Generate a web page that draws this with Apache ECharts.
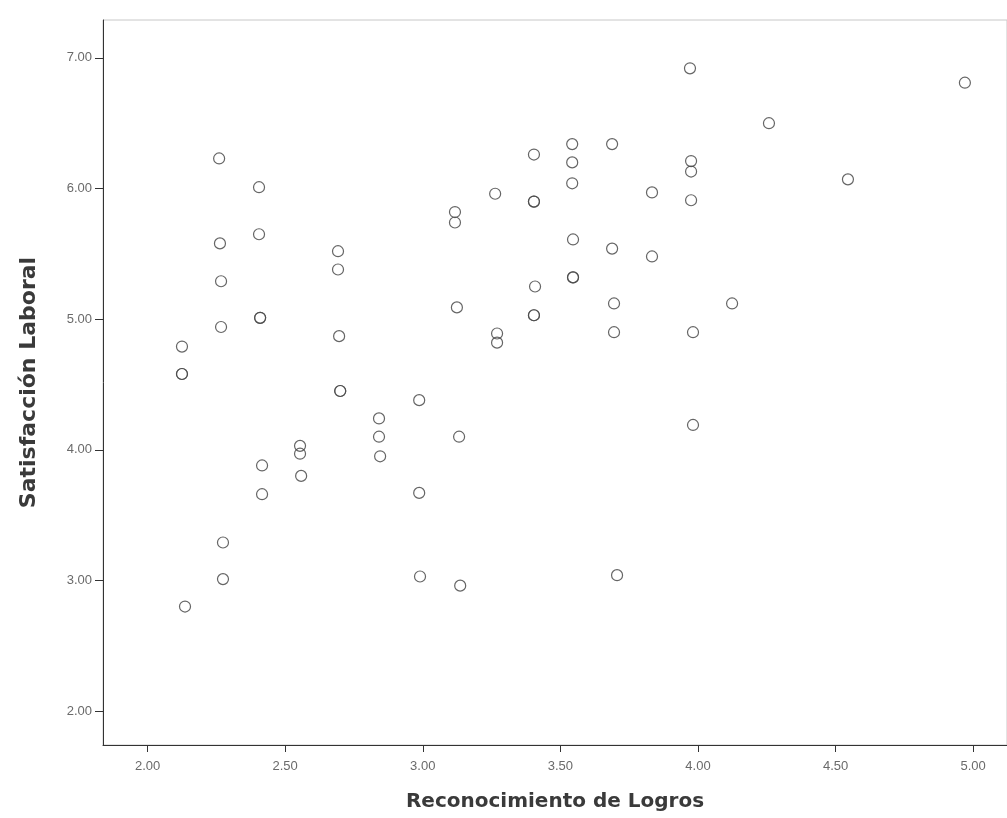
<!DOCTYPE html>
<html>
<head>
<meta charset="utf-8">
<script src="https://cdn.jsdelivr.net/npm/echarts@6/dist/echarts.min.js"></script>
<style>
html,body{margin:0;padding:0;background:#fff;}
#chart{width:1007px;height:818px;}
</style>
</head>
<body>
<div id="chart"></div>
<script>
// Reconocimiento de Logros (x) vs Satisfacción Laboral (y)
const xValues = [
  2.125, 2.125, 2.125, 2.136,
  2.26, 2.263, 2.267, 2.267, 2.274, 2.274,
  2.405, 2.405, 2.409, 2.409, 2.416, 2.416,
  2.554, 2.554, 2.558,
  2.692, 2.692, 2.696, 2.70, 2.70,
  2.841, 2.841, 2.845,
  2.987, 2.987, 2.99,
  3.117, 3.117, 3.124, 3.132, 3.136,
  3.263, 3.27, 3.27,
  3.404, 3.404, 3.404, 3.408, 3.404, 3.404,
  3.543, 3.543, 3.543, 3.546, 3.546, 3.546,
  3.688, 3.688, 3.695, 3.695, 3.706,
  3.833, 3.833,
  3.971, 3.975, 3.975, 3.975, 3.982, 3.982,
  4.124, 4.258, 4.545, 4.97
];
const yValues = [
  4.79, 4.58, 4.58, 2.80,
  6.23, 5.58, 5.29, 4.94, 3.29, 3.01,
  6.01, 5.65, 5.01, 5.01, 3.88, 3.66,
  4.03, 3.97, 3.80,
  5.52, 5.38, 4.87, 4.45, 4.45,
  4.24, 4.10, 3.95,
  4.38, 3.67, 3.03,
  5.82, 5.74, 5.09, 4.10, 2.96,
  5.96, 4.89, 4.82,
  6.26, 5.90, 5.90, 5.25, 5.03, 5.03,
  6.34, 6.20, 6.04, 5.61, 5.32, 5.32,
  6.34, 5.54, 5.12, 4.90, 3.04,
  5.97, 5.48,
  6.92, 6.21, 6.13, 5.91, 4.90, 4.19,
  5.12, 6.50, 6.07, 6.81
];
const xTicks = [2.0, 2.5, 3.0, 3.5, 4.0, 4.5, 5.0];
const yTicks = [2, 3, 4, 5, 6, 7];
const xTitle = 'Reconocimiento de Logros';
const yTitle = 'Satisfacción Laboral';

const points = xValues.map((x, i) => [x, yValues[i]]);

const chart = echarts.init(document.getElementById('chart'), null, {renderer: 'canvas'});
const axisColor = '#333';
const labelStyle = {
  color: '#6a6a6a',
  fontFamily: 'Liberation Sans, Arial, sans-serif',
  fontSize: 13,
  formatter: v => Number(v).toFixed(2)
};
chart.setOption({
  animation: false,
  backgroundColor: '#fff',
  grid: {
    left: 103, top: 20, right: 0, bottom: 73,
    show: true, borderColor: '#c8c8c8', borderWidth: 1, backgroundColor: 'transparent'
  },
  xAxis: {
    type: 'value',
    min: 1.838, max: 5.123,
    name: xTitle,
    nameLocation: 'middle',
    nameGap: 47,
    nameTextStyle: {
      fontFamily: 'DejaVu Sans, sans-serif',
      fontSize: 20, fontWeight: 'bold', color: '#3a3a3a'
    },
    axisLine: {show: true, onZero: false, lineStyle: {color: axisColor, width: 1}},
    axisTick: {show: true, inside: false, length: 7, customValues: xTicks, lineStyle: {color: axisColor}},
    axisLabel: Object.assign({margin: 15, customValues: xTicks}, labelStyle),
    splitLine: {show: false}
  },
  yAxis: {
    type: 'value',
    min: 1.74, max: 7.29,
    name: yTitle,
    nameLocation: 'middle',
    nameGap: 63,
    nameTextStyle: {
      fontFamily: 'DejaVu Sans, sans-serif',
      fontSize: 22, fontWeight: 'bold', color: '#3a3a3a'
    },
    axisLine: {show: true, onZero: false, lineStyle: {color: axisColor, width: 1}},
    axisTick: {show: true, inside: false, length: 8, customValues: yTicks, lineStyle: {color: axisColor}},
    axisLabel: Object.assign({margin: 11, customValues: yTicks}, labelStyle),
    splitLine: {show: false}
  },
  series: [{
    type: 'scatter',
    data: points,
    symbol: 'circle',
    symbolSize: 11,
    itemStyle: {color: 'rgba(255,255,255,0)', borderColor: '#4a4a4a', borderWidth: 1.2, opacity: 0.85}
  }]
});
</script>
</body>
</html>
